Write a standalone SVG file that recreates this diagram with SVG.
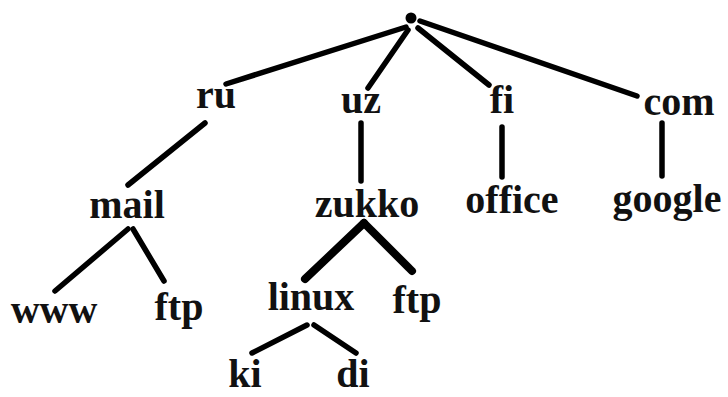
<svg xmlns="http://www.w3.org/2000/svg" width="728" height="397" viewBox="0 0 728 397">
<style>
text{font-family:"Liberation Serif","Times New Roman",serif;font-weight:bold;font-size:40px;fill:#111;text-anchor:middle}
.e{stroke:#000;stroke-width:5.5;stroke-linecap:round;fill:none}
.t{stroke-width:8}
</style>
<rect width="728" height="397" fill="#fff"/>
<g id="connectors">
<line class="e" x1="406" y1="27" x2="226" y2="84"/>
<line class="e" x1="408" y1="30" x2="368" y2="88"/>
<line class="e" x1="418" y1="28" x2="489" y2="85"/>
<line class="e" x1="420" y1="21" x2="637" y2="96"/>
<line class="e" x1="205" y1="123" x2="128" y2="185"/>
<line class="e" x1="361" y1="123" x2="361" y2="181"/>
<line class="e" x1="502" y1="127" x2="502" y2="177"/>
<line class="e" x1="662" y1="123" x2="662" y2="176"/>
<line class="e" x1="128" y1="229" x2="55" y2="291"/>
<line class="e" x1="133" y1="229" x2="164" y2="281"/>
<line class="e t" x1="364" y1="223" x2="305" y2="279"/>
<line class="e t" x1="364" y1="223" x2="412" y2="271"/>
<line class="e" x1="307" y1="325" x2="252" y2="353"/>
<line class="e" x1="314" y1="325" x2="356" y2="353"/>
</g>
<g id="root"><circle cx="411" cy="18" r="5.5" fill="#000"/></g>
<g id="ru"><text x="216" y="108">ru</text></g>
<g id="uz"><text x="361" y="113">uz</text></g>
<g id="fi"><text x="502" y="113">fi</text></g>
<g id="com"><text x="679" y="115">com</text></g>
<g id="mail"><text x="127" y="218" font-size="36">mail</text></g>
<g id="zukko"><text x="367" y="217">zukko</text></g>
<g id="office"><text x="512" y="213">office</text></g>
<g id="google"><text x="667" y="212">google</text></g>
<g id="www"><text x="54" y="323">www</text></g>
<g id="ftp1"><text x="179" y="320">ftp</text></g>
<g id="linux"><text x="311" y="310" font-size="34">linux</text></g>
<g id="ftp2"><text x="417" y="313">ftp</text></g>
<g id="ki"><text x="245" y="387" font-size="38">ki</text></g>
<g id="di"><text x="353" y="387" font-size="38">di</text></g>
</svg>
